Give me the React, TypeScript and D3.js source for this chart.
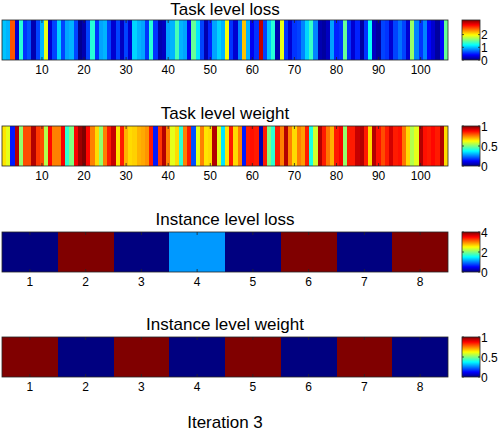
import React from "react";
import * as d3 from "d3";

// values (one per cell)
const taskLoss = [
  1.0, 0.95, 2.5, 0.25, 1.3, 0.55, 0.65, 0.15, 0.6, 0.95,
  1.9, 0.25, 0.6, 1.05, 0.6, 0.9, 0.95, 0.6, 0.05, 0.15,
  0.6, 1.3, 0.55, 0.9, 0.95, 0.6, 0.25, 0.6, 0.2, 0.6,
  0.25, 1.05, 0.95, 0.9, 0.55, 1.3, 0.55, 0.15, 0.2, 0.9,
  0.95, 1.4, 0.95, 0.9, 0.35, 1.5, 1.1, 0.6, 0.15, 0.5,
  0.9, 1.05, 0.95, 1.95, 0.55, 0.25, 0.8, 2.15, 0.95, 0.35,
  0.55, 2.95, 0.6, 1.0, 1.3, 0.15, 1.9, 0.55, 0.25, 0.55,
  0.6, 0.8, 1.05, 1.35, 0.8, 0.15, 0.1, 0.2, 0.9, 0.5,
  0.55, 1.5, 0.55, 0.25, 0.5, 0.1, 0.55, 1.2, 0.2, 0.1,
  0.6, 0.55, 0.25, 0.6, 0.75, 0.6, 0.25, 1.65, 0.8, 0.55,
  0.8, 0.4, 0.25, 0.1, 0.4, 1.5,
];

const taskWeight = [
  0.65, 0.6, 0.15, 0.95, 0.52, 0.8, 0.8, 0.95, 0.82, 0.8,
  0.55, 0.87, 0.75, 0.75, 0.88, 0.42, 0.5, 0.88, 0.97, 1.0,
  0.87, 0.75, 0.66, 0.52, 0.75, 0.85, 0.93, 0.65, 0.85, 0.7,
  0.66, 0.67, 0.7, 0.71, 0.73, 0.85, 0.15, 0.82, 0.95, 0.75,
  0.6, 0.66, 0.42, 0.75, 0.85, 0.2, 0.6, 0.75, 0.65, 0.66,
  0.95, 0.6, 0.35, 0.65, 0.85, 0.66, 0.75, 0.15, 0.85, 0.86,
  0.85, 0.05, 0.85, 0.5, 0.42, 0.85, 0.75, 0.95, 0.75, 0.66,
  0.75, 0.72, 0.85, 0.4, 0.58, 0.95, 0.85, 0.76, 0.7, 0.85,
  0.88, 0.52, 0.85, 0.85, 0.93, 0.95, 0.85, 0.66, 0.95, 0.86,
  0.8, 0.85, 0.92, 0.85, 0.86, 0.76, 0.66, 0.55, 0.6, 0.95,
  0.86, 0.85, 0.87, 0.85, 0.95, 0.66,
];

const instanceLoss = [0, 4, 0, 1.1, 0, 4, 0, 4];
const instanceWeight = [1, 0, 1, 0, 1, 0, 1, 0];

const taskTicks = [10, 20, 30, 40, 50, 60, 70, 80, 90, 100];
const instanceTicks = [1, 2, 3, 4, 5, 6, 7, 8];
const lossBarTicks = [0, 1, 2];
const instLossBarTicks = [0, 2, 4];
const weightBarTicks = [0, 0.5, 1];

const width = 498;
const height = 433;
const axLeft = 2;
const axRight = 448;
const cbLeft = 462;
const cbRight = 480;
const stripH = 40;
const font = "'Liberation Sans', Arial, Helvetica, sans-serif";
const edge = "#262626";

// MATLAB jet
const jetStops = [0, 0.125, 0.375, 0.625, 0.875, 1];
const jetColors = ["#000080", "#0000ff", "#00ffff", "#ffff00", "#ff0000", "#800000"];
const jet = d3.scaleLinear<string>().domain(jetStops).range(jetColors).clamp(true);

type StripProps = {
  id: string;
  title: string;
  titleY: number;
  top: number;
  values: number[];
  clim: [number, number];
  ticks: number[];
  barTicks: number[];
};

const Strip = ({ id, title, titleY, top, values, clim, ticks, barTicks }: StripProps) => {
  const n = values.length;
  const x = d3.scaleLinear().domain([0.5, n + 0.5]).range([axLeft, axRight]);
  const c = d3.scaleLinear().domain(clim).range([0, 1]);
  const cy = d3.scaleLinear().domain(clim).range([top + stripH, top]);
  const bottom = top + stripH;

  return (
    <g>
      <defs>
        <linearGradient id={id} x1="0" y1="1" x2="0" y2="0">
          {jetStops.map((s, i) => (
            <stop key={i} offset={s} stopColor={jetColors[i]} />
          ))}
        </linearGradient>
      </defs>
      <text x={(axLeft + axRight) / 2} y={titleY} textAnchor="middle"
        fontSize={17} fontFamily={font} fill="#000">{title}</text>
      {values.map((v, i) => (
        <rect key={i} x={x(i + 0.5)} y={top} width={x(i + 1.5) - x(i + 0.5) + 0.3}
          height={stripH} fill={jet(c(v))} shapeRendering="crispEdges" />
      ))}
      <rect x={axLeft} y={top} width={axRight - axLeft} height={stripH}
        fill="none" stroke={edge} strokeWidth={0.8} />
      {ticks.map((t) => (
        <g key={t}>
          <line x1={x(t)} x2={x(t)} y1={top} y2={top + 3} stroke={edge} strokeWidth={0.8} />
          <line x1={x(t)} x2={x(t)} y1={bottom} y2={bottom - 3} stroke={edge} strokeWidth={0.8} />
          <text x={x(t)} y={bottom + 14} textAnchor="middle" fontSize={12}
            fontFamily={font} fill="#000">{t}</text>
        </g>
      ))}
      <rect x={cbLeft} y={top} width={cbRight - cbLeft} height={stripH}
        fill={`url(#${id})`} stroke={edge} strokeWidth={0.8} />
      {barTicks.map((t) => (
        <g key={t}>
          <line x1={cbLeft} x2={cbLeft + 2} y1={cy(t)} y2={cy(t)} stroke={edge} strokeWidth={0.8} />
          <line x1={cbRight} x2={cbRight - 2} y1={cy(t)} y2={cy(t)} stroke={edge} strokeWidth={0.8} />
          <text x={cbRight + 1} y={cy(t) + 4.5} fontSize={12} fontFamily={font} fill="#000">{t}</text>
        </g>
      ))}
    </g>
  );
};

export default function App() {
  return (
    <svg width={width} height={height} style={{ position: "absolute", left: 0, top: 0, background: "#fff" }}>
      <rect width={width} height={height} fill="#fff" />
      <Strip id="cb1" title="Task level loss" titleY={15} top={20} values={taskLoss} clim={[0, 3.15]}
        ticks={taskTicks} barTicks={lossBarTicks} />
      <Strip id="cb2" title="Task level weight" titleY={119} top={126} values={taskWeight} clim={[0, 1]}
        ticks={taskTicks} barTicks={weightBarTicks} />
      <Strip id="cb3" title="Instance level loss" titleY={225} top={232} values={instanceLoss} clim={[0, 4]}
        ticks={instanceTicks} barTicks={instLossBarTicks} />
      <Strip id="cb4" title="Instance level weight" titleY={330} top={337} values={instanceWeight} clim={[0, 1]}
        ticks={instanceTicks} barTicks={weightBarTicks} />
      <text x={(axLeft + axRight) / 2} y={428} textAnchor="middle" fontSize={17}
        fontFamily={font} fill="#000">Iteration 3</text>
    </svg>
  );
}
